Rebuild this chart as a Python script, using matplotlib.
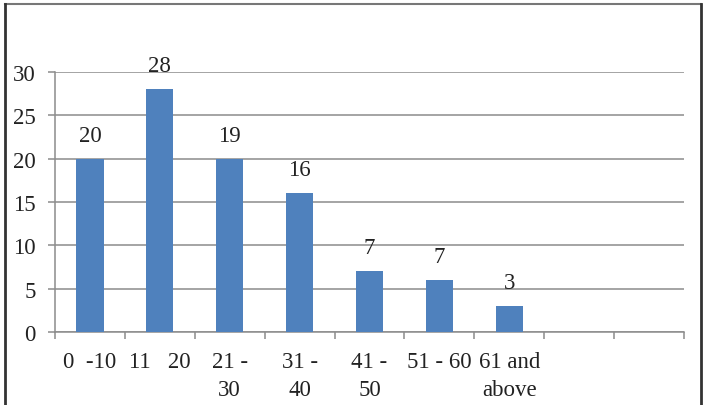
import numpy as np
import matplotlib
matplotlib.use("Agg")
import matplotlib.pyplot as plt
from matplotlib.lines import Line2D

plt.rcParams.update({"font.family": "Liberation Serif", "font.size": 16.5})

categories = ["0  -10", "11   20", "21 -\n30", "31 -\n40", "41 -\n50",
              "51 - 60", "61 and\nabove", "", ""]
bar_values = [20, 28, 20, 16, 7, 6, 3]
bar_labels = ["20", "28", "19", "16", "7", "7", "3"]
yticks = [0, 5, 10, 15, 20, 25, 30]

BLUE = "#4f81bd"
GRID = "#8c8c8c"

fig = plt.figure(figsize=(7.05, 4.06), dpi=100)
ax = fig.add_axes([55 / 705, 1 - 333 / 406, 629 / 705, 260 / 406])

n = len(categories)
x = np.arange(len(bar_values))
ax.bar(x, bar_values, width=0.39, color=BLUE, zorder=3)
for xi, v, lab in zip(x, bar_values, bar_labels):
    ax.annotate(lab, (xi, v), xytext=(0, 13), textcoords="offset points",
                ha="center", va="baseline", color="#222222")

ax.set_xlim(-0.5, n - 0.5)
ax.set_ylim(0, 30)
ax.set_yticks(yticks)
ax.yaxis.grid(True, color=GRID, linewidth=1.1, zorder=0)
ax.tick_params(axis="y", length=5, width=1.1, color=GRID, pad=9, labelcolor="#222222")

# category boundaries as major ticks, labels on minor ticks at centers
ax.set_xticks(np.arange(n + 1) - 0.5)
ax.set_xticklabels([])
ax.set_xticks(np.arange(n), minor=True)
ax.set_xticklabels(categories, minor=True, linespacing=1.4, color="#222222")
ax.tick_params(axis="x", which="major", length=5, width=1.1, color=GRID)
ax.tick_params(axis="x", which="minor", length=0, pad=14)

for s in ["top", "right"]:
    ax.spines[s].set_visible(False)
for s in ["left", "bottom"]:
    ax.spines[s].set_color(GRID)
    ax.spines[s].set_linewidth(1.1)

# outer frame
W, H = 705, 406
fig.add_artist(Line2D([5 / W, 701 / W], [1 - 5 / H, 1 - 5 / H], color="#777777", lw=1.5))
fig.add_artist(Line2D([5 / W, 5 / W], [0, 1 - 5 / H], color="#333333", lw=2))
fig.add_artist(Line2D([701 / W, 701 / W], [0, 1 - 5 / H], color="#333333", lw=2))

fig.savefig("out.png", dpi=100)
